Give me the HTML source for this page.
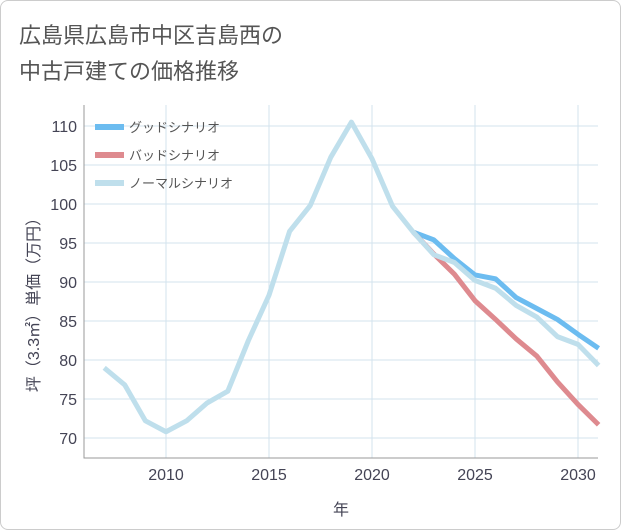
<!DOCTYPE html>
<html><head><meta charset="utf-8"><style>
body{margin:0;background:#fff;}
#card{position:absolute;left:0;top:0;width:619px;height:528px;border:1px solid #ccc;border-radius:8px;background:#fff;overflow:hidden;}
text{font-family:"Liberation Sans","Noto Sans CJK JP",sans-serif;}
</style></head><body>
<div id="card">
<svg id="chart" width="621" height="530">
<text x="18" y="42" font-size="22" fill="#555">広島県広島市中区吉島西の</text>
<text x="18" y="78" font-size="22" fill="#555">中古戸建ての価格推移</text>
<g id="grid"></g><g id="axes"></g><g id="series"></g><g id="legend"></g>
</svg></div>
<script>
const normalYears=[2007,2008,2009,2010,2011,2012,2013,2014,2015,2016,2017,2018,2019,2020,2021,2022,2023,2024,2025,2026,2027,2028,2029,2030,2031];
const normalValues=[79,76.8,72.2,70.8,72.2,74.5,76,82.5,88.3,96.5,99.8,106,110.5,105.8,99.7,96.4,93.5,92.5,90.2,89.2,87,85.5,83,82,79.3];
const forecastYears=[2022,2023,2024,2025,2026,2027,2028,2029,2030,2031];
const goodValues=[96.4,95.4,93,90.9,90.4,88,86.6,85.2,83.3,81.5];
const badValues=[96.4,93.6,91,87.6,85.2,82.7,80.5,77.2,74.3,71.7];
const xTicks=[2010,2015,2020,2025,2030];
const yTicks=[70,75,80,85,90,95,100,105,110];
const legendLabels=["グッドシナリオ","バッドシナリオ","ノーマルシナリオ"];
const colors=["#6cbcf0","#de8a8f","#bfdfec"];
const L=83,R=597,T=104,B=457;
const X=y=>165+(y-2010)*20.6;
const Y=v=>437-(v-70)*7.8;
const NS="http://www.w3.org/2000/svg";
function mk(tag,attrs,parent,txt){const e=document.createElementNS(NS,tag);for(const k in attrs)e.setAttribute(k,attrs[k]);if(txt!==undefined)e.textContent=txt;document.getElementById(parent).appendChild(e);return e;}
xTicks.forEach(t=>{
 const l=mk('line',{x1:X(t),x2:X(t),y1:T,y2:B,stroke:'#d3e3ee','stroke-width':1},'grid');
 
 
 const tx=mk('text',{x:X(t),y:479,'font-size':16,fill:'#445','text-anchor':'middle'},'axes',t);
 
 
});
yTicks.forEach(t=>{
 const l=mk('line',{x1:L,x2:R,y1:Y(t),y2:Y(t),stroke:'#d3e3ee','stroke-width':1},'grid');
 
 
 const tx=mk('text',{x:76,y:Y(t)+6,'font-size':16,fill:'#445','text-anchor':'end'},'axes',t);
 
 
});
const fr=mk('path',{d:`M${R},${B}H${L}V${T}`,stroke:'#999',fill:'none','stroke-width':1},'axes');


const xt=mk('text',{x:340,y:514,'font-size':16,fill:'#445','text-anchor':'middle'},'axes','年');


const yt=mk('text',{x:0,y:0,'font-size':16,fill:'#445','text-anchor':'middle',transform:'translate(38,300) rotate(-90)'},'axes','坪（3.3㎡）単価（万円）');


function line(xs,vs,c,name){
 const p=mk('polyline',{points:xs.map((y,i)=>X(y)+','+Y(vs[i])).join(' '),fill:'none',stroke:c,'stroke-width':5,'stroke-linejoin':'round'},'series');
 
 
}
line(forecastYears,goodValues,colors[0],'good-scenario-line');
line(forecastYears,badValues,colors[1],'bad-scenario-line');
line(normalYears,normalValues,colors[2],'normal-scenario-line');
legendLabels.forEach((lb,i)=>{
 const y=126+i*28;
 const r=mk('line',{x1:94,x2:123,y1:y,y2:y,stroke:colors[i],'stroke-width':6},'legend');
 
 
 const t=mk('text',{x:128,y:y+5,'font-size':13,fill:'#555'},'legend',lb);
 
 
});
</script>
</body></html>
